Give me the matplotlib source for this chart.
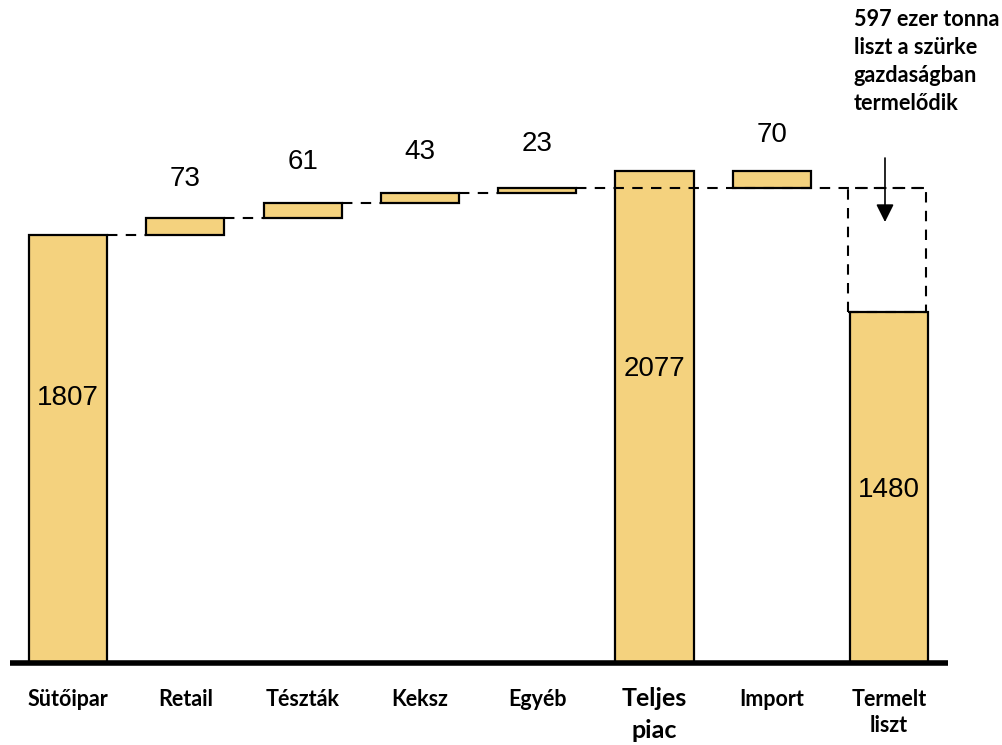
import matplotlib
matplotlib.use("Agg")
import matplotlib.pyplot as plt
from matplotlib.patches import Rectangle

categories = ["Sütőipar", "Retail", "Tészták", "Keksz", "Egyéb", "Teljes\npiac", "Import", "Termelt\nliszt"]
values = [1807, 73, 61, 43, 23, 2077, 70, 1480]
bottoms = [0, 1807, 1880, 1941, 1984, 0, 2007, 0]
step_level = 2007      # level the dashed connector reaches after the domestic items
grey_gap = 597
note = "597 ezer tonna\nliszt a szürke\ngazdaságban\ntermelődik"

BAR = "#F4D27E"
W = 0.665
PX = 0.2369   # pixels per unit (for placing labels)

fig = plt.figure(figsize=(10.02, 7.45), dpi=100)
ax = fig.add_axes([0, (745 - 663) / 745, 1, 663 / 745])
ax.set_xlim(-68 / 117.3, (1002 - 68) / 117.3)
ax.set_ylim(0, 663 / PX)
ax.axis("off")

x = list(range(len(categories)))
ax.bar(x, values, width=W, bottom=bottoms, color=BAR, edgecolor="black", linewidth=1.6, zorder=2)

# connectors between the steps
dash = dict(color="black", linewidth=1.5, linestyle=(0, (5, 4)), zorder=3)
for i in range(4):
    lvl = bottoms[i] + values[i]
    ax.plot([i + W / 2, i + 1 - W / 2], [lvl, lvl], **dash)
ax.plot([4 + W / 2, 7 + W / 2], [step_level, step_level], **dash)

# dashed box for the grey economy part
ax.add_patch(Rectangle((7 - W / 2 - 0.02, values[7]), W, step_level - values[7],
                       fill=False, edgecolor="black", linewidth=1.5, linestyle=(0, (5, 4)), zorder=3))

# baseline
ax.plot([-0.494, 7.50], [0, 0], color="black", linewidth=4, solid_capstyle="butt", zorder=4, clip_on=False)

# value labels
num = dict(fontsize=20, family="Liberation Sans", ha="center", va="center", zorder=5)
inside = {0: 398, 5: 369, 7: 490}
above = {1: 39, 2: 41, 3: 41, 4: 44, 6: 36}   # pixel gap above the floating bars
for i, v in enumerate(values):
    if i in inside:
        ax.text(i, (663 - inside[i]) / PX, str(v), **num)
    else:
        top = bottoms[i] + v
        ax.text(i, top + above[i] / PX, str(v), **num)

# category labels
for i, c in enumerate(categories):
    big = i == 5
    step = 31 if big else 27
    for k, line in enumerate(c.split("\n")):
        ax.text(i, -(36 + k * step) / PX, line, ha="center", va="center",
                fontsize=18 if big else 15.5, family="Lato", fontweight="bold", clip_on=False)

# annotation
ax.annotate("", xy=(6.965, (663 - 222) / PX), xytext=(6.965, (663 - 158) / PX),
            arrowprops=dict(arrowstyle="-|>,head_length=0.6,head_width=0.3", color="black",
                            lw=1.2, mutation_scale=18, shrinkA=0, shrinkB=0))
fig.text(854 / 1002, 1 - 9 / 745, note, ha="left", va="top", fontsize=15.6,
         family="Lato", fontweight="bold", linespacing=1.42)

fig.savefig("out.png", dpi=100)
